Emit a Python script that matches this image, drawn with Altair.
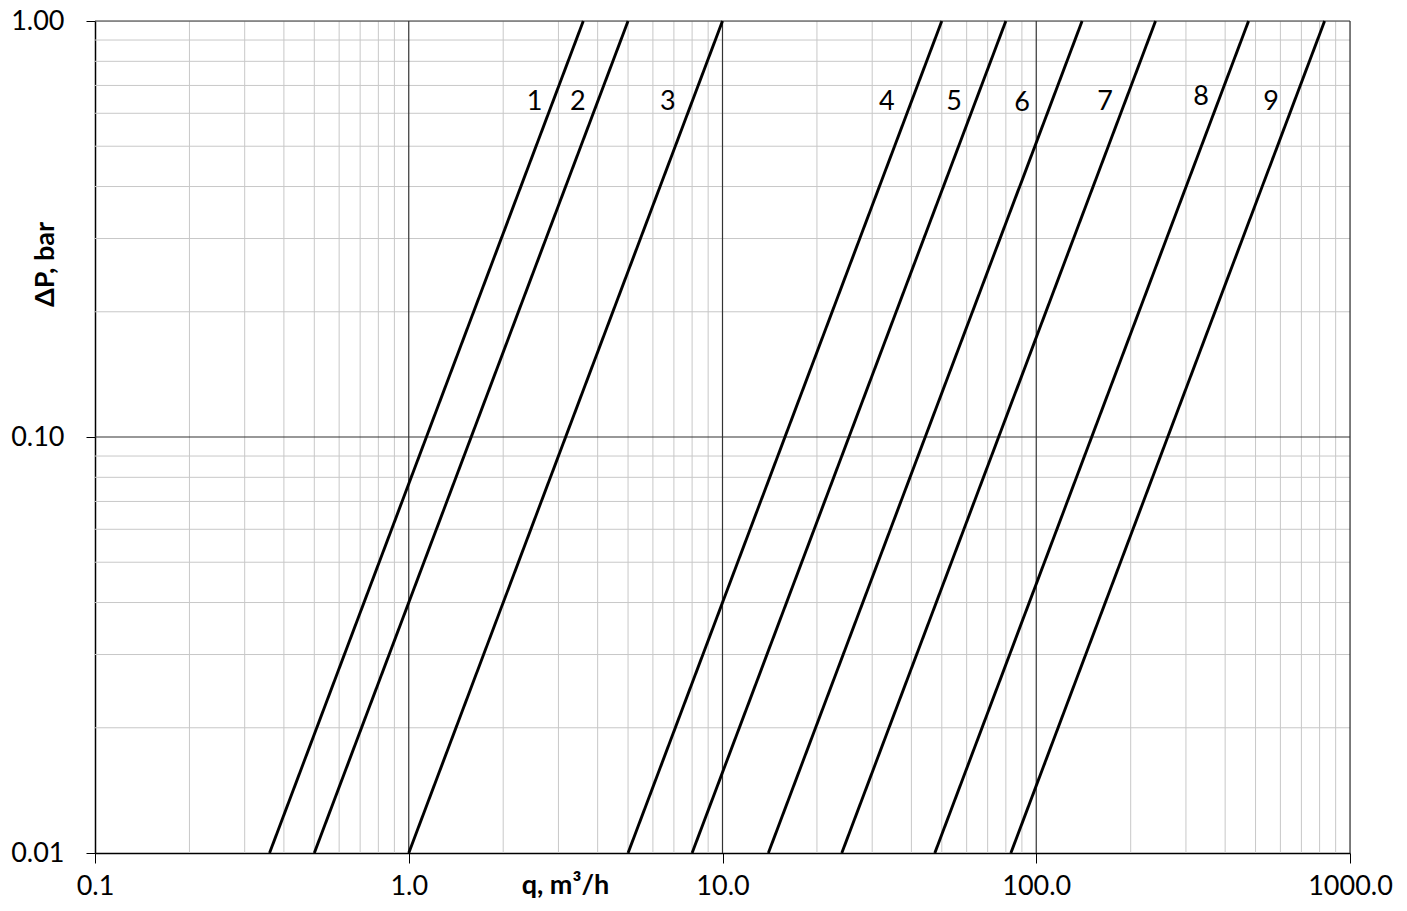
import altair as alt
import pandas as pd

# Curve ids and flow q (m3/h) read at dP = 0.01 bar and dP = 1.00 bar
curve_ids = ["1", "2", "3", "4", "5", "6", "7", "8", "9"]
q_at_low = [0.36, 0.50, 1.0, 5.0, 8.0, 14.0, 24.0, 47.5, 83.0]
q_at_high = [3.6, 5.0, 10.0, 50.0, 80.0, 140.0, 240.0, 475.0, 830.0]
dp_low = 0.01
dp_high = 1.0

# Curve label positions
label_q = [2.52, 3.46, 6.70, 33.4, 54.7, 90.2, 165.6, 335.0, 560.0]
label_dp = [0.64, 0.64, 0.64, 0.64, 0.64, 0.635, 0.64, 0.655, 0.64]

# Grid values
x_major = [0.1, 1.0, 10.0, 100.0, 1000.0]
x_minor = [m * d for d in [0.1, 1.0, 10.0, 100.0] for m in range(2, 10)]
y_major = [0.01, 0.1, 1.0]
y_minor = [m * d for d in [0.01, 0.1] for m in range(2, 10)]

rows = []
for cid, lo, hi in zip(curve_ids, q_at_low, q_at_high):
    rows.append({"curve": cid, "q": lo, "dp": dp_low, "o": 0})
    rows.append({"curve": cid, "q": hi, "dp": dp_high, "o": 1})
curves_df = pd.DataFrame(rows)
labels_df = pd.DataFrame({"curve": curve_ids, "q": label_q, "dp": label_dp})

FONT = "Lato"
FS = 27

xscale = alt.Scale(type="log", domain=[0.1, 1000], nice=False)
yscale = alt.Scale(type="log", domain=[0.01, 1], nice=False)

xaxis = alt.Axis(
    values=x_major, format=".1f", grid=False, tickSize=10, tickColor="black",
    tickWidth=1, domainColor="black", domainWidth=1.5,
    labelFont=FONT, labelFontSize=FS, labelColor="black", labelPadding=31,
    labelBaseline="alphabetic", labelFlush=False,
    title="q, m³/h", titleFont=FONT, titleFontSize=FS, titleFontWeight="bold",
    titleColor="black", titleX=470, titleY=40, titleBaseline="alphabetic",
    titleAlign="center",
)
yaxis = alt.Axis(
    values=y_major, format=".2f", grid=False, tickSize=9, tickColor="black",
    tickWidth=1, domainColor="black", domainWidth=1.5,
    labelFont=FONT, labelFontSize=FS, labelColor="black", labelPadding=22,
    labelFlush=False,
    title="ΔP, bar", titleFont=FONT, titleFontSize=FS, titleFontWeight="bold",
    titleColor="black", titleX=-50, titleY=243, titleAngle=270,
    titleBaseline="middle", titleAlign="center",
)

xminor_rules = alt.Chart(pd.DataFrame({"v": x_minor})).mark_rule(
    color="#c8c8c8", strokeWidth=1
).encode(x=alt.X("v:Q", scale=xscale, axis=xaxis))
yminor_rules = alt.Chart(pd.DataFrame({"v": y_minor})).mark_rule(
    color="#c8c8c8", strokeWidth=1
).encode(y=alt.Y("v:Q", scale=yscale, axis=yaxis))
xmajor_rules = alt.Chart(pd.DataFrame({"v": x_major[1:]})).mark_rule(
    color="#333333", strokeWidth=1.2
).encode(x=alt.X("v:Q", scale=xscale))
ymajor_rules = alt.Chart(pd.DataFrame({"v": y_major[1:]})).mark_rule(
    color="#333333", strokeWidth=1.2
).encode(y=alt.Y("v:Q", scale=yscale))

lines = alt.Chart(curves_df).mark_line(color="black", strokeWidth=2.9).encode(
    x=alt.X("q:Q", scale=xscale),
    y=alt.Y("dp:Q", scale=yscale),
    detail="curve:N",
    order="o:Q",
)

texts = alt.Chart(labels_df).mark_text(
    font=FONT, fontSize=FS, color="black", align="center", baseline="middle"
).encode(
    x=alt.X("q:Q", scale=xscale),
    y=alt.Y("dp:Q", scale=yscale),
    text="curve:N",
)

chart = alt.layer(
    xminor_rules, yminor_rules, xmajor_rules, ymajor_rules, lines, texts
).properties(
    width=1255, height=832,
    autosize=alt.AutoSizeParams(type="none"),
    padding={"left": 87, "top": 13, "right": 48, "bottom": 50},
).configure_view(stroke=None).configure(background="white")

chart.save("out.html", embed_options={"renderer": "svg", "actions": False})
